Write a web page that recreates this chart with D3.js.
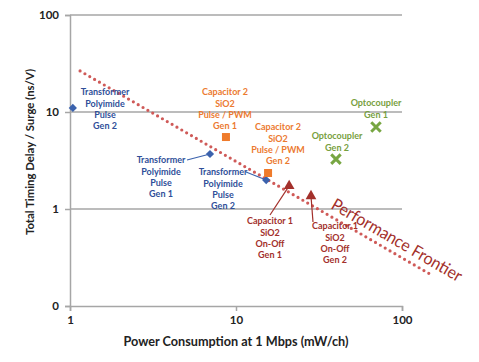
<!DOCTYPE html>
<html>
<head>
<meta charset="utf-8">
<script src="https://cdn.jsdelivr.net/npm/d3@7"></script>
<style>
  body { margin: 0; background: #fff; }
  text { font-family: Lato, "Open Sans", sans-serif; }
</style>
</head>
<body>
<div id="chart"></div>
<script>
// Data
const parts = ["Transformer Gen 2 (left)", "Transformer Gen 1", "Transformer Gen 2",
  "Capacitor 2 Gen 1", "Capacitor 2 Gen 2", "Capacitor 1 Gen 1", "Capacitor 1 Gen 2",
  "Optocoupler Gen 1", "Optocoupler Gen 2"];
const family = ["transformer", "transformer", "transformer", "cap2", "cap2", "cap1", "cap1", "opto", "opto"];
const power = [1.04, 6.97, 15.2, 8.7, 15.6, 20.9, 28.3, 69.7, 40];
const delay = [11.0, 3.69, 1.99, 5.52, 2.35, 1.73, 1.36, 7.0, 3.27];
const labelLines = [
  ["Transformer", "Polyimide", "Pulse", "Gen 2"],
  ["Transformer", "Polyimide", "Pulse", "Gen 1"],
  ["Transformer", "Polyimide", "Pulse", "Gen 2"],
  ["Capacitor 2", "SiO2", "Pulse / PWM", "Gen 1"],
  ["Capacitor 2", "SiO2", "Pulse / PWM", "Gen 2"],
  ["Capacitor 1", "SiO2", "On-Off", "Gen 1"],
  ["Capacitor 1", "SiO2", "On-Off", "Gen 2"],
  ["Optocoupler", "Gen 1"],
  ["Optocoupler", "Gen 2"]
];
const frontierX = [1.15, 147];
const frontierY = [26.5, 0.214];
const xTicks = [1, 10, 100];
const xTickLabels = ["1", "10", "100"];
const yTicks = [0.1, 1, 10, 100];
const yTickLabels = ["0", "1", "10", "100"];

// Layout of the annotations (pixel positions of label blocks, leader line starts)
const labelPos = [
  { x: 105, y: 92 },
  { x: 161, y: 160, lx: 187, ly: 160 },
  { x: 223, y: 172, lx: 246, ly: 172 },
  { x: 225, y: 92 },
  { x: 278, y: 127 },
  { x: 270, y: 221, lx: 270, ly: 215 },
  { x: 335, y: 226, lx: 313, ly: 222 },
  { x: 376, y: 103 },
  { x: 337, y: 136 }
];

const colors = {
  transformer: { mark: "#3b62ad", text: "#2f4f99" },
  cap2: { mark: "#ef7b2b", text: "#ec7a30" },
  cap1: { mark: "#a3302b", text: "#a3302b" },
  opto: { mark: "#77a642", text: "#77a040" }
};

const margin = { top: 15, right: 77, bottom: 56, left: 70 };
const width = 479 - margin.left - margin.right;
const height = 362 - margin.top - margin.bottom;

const svg = d3.select("#chart")
  .append("svg")
  .attr("width", 479)
  .attr("height", 362)
  .append("g")
  .attr("transform", `translate(${margin.left},${margin.top})`);

const x = d3.scaleLog().domain([1, 100]).range([0, width]);
const y = d3.scaleLog().domain([0.1, 100]).range([height, 0]);

// Gridlines
svg.selectAll(".grid")
  .data(yTicks.slice(1))
  .enter()
  .append("line")
  .attr("x1", 0)
  .attr("x2", width)
  .attr("y1", d => y(d))
  .attr("y2", d => y(d))
  .attr("stroke", "#a6a6a6")
  .attr("stroke-width", 1.5);

// Axes
const xAxis = svg.append("g")
  .attr("transform", `translate(0,${height})`)
  .call(d3.axisBottom(x).tickValues(xTicks).tickSize(5).tickPadding(5)
    .tickFormat((d, i) => xTickLabels[i]));
const yAxis = svg.append("g")
  .call(d3.axisLeft(y).tickValues(yTicks).tickSize(5).tickPadding(6)
    .tickFormat((d, i) => yTickLabels[i]));

[xAxis, yAxis].forEach(a => {
  a.select(".domain").attr("stroke", "#a6a6a6").attr("stroke-width", 1.5);
  a.selectAll(".tick line").attr("stroke", "#a6a6a6").attr("stroke-width", 1.5);
  a.selectAll(".tick text")
    .attr("font-family", "Lato, sans-serif")
    .attr("font-size", 11.5)
    .attr("font-weight", "bold")
    .attr("fill", "#222");
});

// Axis titles
svg.append("text")
  .attr("x", width / 2)
  .attr("y", height + 40)
  .attr("text-anchor", "middle")
  .attr("font-size", 13)
  .attr("font-weight", "bold")
  .attr("fill", "#222")
  .attr("textLength", 225)
  .attr("lengthAdjust", "spacingAndGlyphs")
  .text("Power Consumption at 1 Mbps (mW/ch)");

svg.append("text")
  .attr("transform", `translate(${-36},${152 - margin.top}) rotate(-90)`)
  .attr("text-anchor", "middle")
  .attr("font-size", 12)
  .attr("font-weight", "bold")
  .attr("fill", "#222")
  .attr("textLength", 166)
  .attr("lengthAdjust", "spacingAndGlyphs")
  .text("Total Timing Delay / Surge (ns/V)");

// Performance frontier (dotted)
const frontier = frontierX.map((d, i) => [d, frontierY[i]]);
svg.append("path")
  .datum(frontier)
  .attr("fill", "none")
  .attr("stroke", "#cf5a58")
  .attr("stroke-width", 3.2)
  .attr("stroke-linecap", "round")
  .attr("stroke-dasharray", "0 5.6")
  .attr("d", d3.line().x(d => x(d[0])).y(d => y(d[1])));

const fx0 = x(frontierX[0]), fy0 = y(frontierY[0]);
const fx1 = x(frontierX[1]), fy1 = y(frontierY[1]);
const angle = Math.atan2(fy1 - fy0, fx1 - fx0) * 180 / Math.PI;
svg.append("text")
  .attr("transform", `translate(${397 - margin.left},${240 - margin.top}) rotate(${angle})`)
  .attr("text-anchor", "middle")
  .attr("dy", "0.35em")
  .attr("font-size", 17)
  .attr("fill", "#a3302b")
  .attr("textLength", 148)
  .attr("lengthAdjust", "spacingAndGlyphs")
  .text("Performance Frontier");

// Leader lines
const points = parts.map((p, i) => ({
  name: p, fam: family[i], x: power[i], y: delay[i], lines: labelLines[i], pos: labelPos[i]
}));

svg.selectAll(".leader")
  .data(points.filter(d => d.pos.lx !== undefined))
  .enter()
  .append("line")
  .attr("x1", d => d.pos.lx - margin.left)
  .attr("y1", d => d.pos.ly - margin.top)
  .attr("x2", d => x(d.x))
  .attr("y2", d => y(d.y))
  .attr("stroke", d => colors[d.fam].mark)
  .attr("stroke-width", 1.2);

// Markers
const marker = svg.selectAll(".pt")
  .data(points)
  .enter()
  .append("g")
  .attr("transform", d => `translate(${x(d.x)},${y(d.y)})`);

marker.filter(d => d.fam === "transformer")
  .append("path")
  .attr("d", d3.symbol().type(d3.symbolSquare).size(34))
  .attr("transform", "rotate(45)")
  .attr("fill", d => colors[d.fam].mark);

marker.filter(d => d.fam === "cap2")
  .append("path")
  .attr("d", d3.symbol().type(d3.symbolSquare).size(64))
  .attr("fill", d => colors[d.fam].mark);

marker.filter(d => d.fam === "cap1")
  .append("path")
  .attr("d", d3.symbol().type(d3.symbolTriangle).size(50))
  .attr("fill", d => colors[d.fam].mark);

marker.filter(d => d.fam === "opto")
  .append("path")
  .attr("d", d3.symbol().type(d3.symbolX).size(60))
  .attr("fill", "none")
  .attr("stroke", d => colors[d.fam].mark)
  .attr("stroke-width", 3);

// Data labels
const labels = svg.selectAll(".lbl")
  .data(points)
  .enter()
  .append("text")
  .attr("text-anchor", "middle")
  .attr("font-size", 9)
  .attr("font-weight", "bold")
  .attr("fill", d => colors[d.fam].text);

labels.selectAll("tspan")
  .data(d => d.lines.map((t, i) => ({ t, i, pos: d.pos })))
  .enter()
  .append("tspan")
  .attr("x", d => d.pos.x - margin.left)
  .attr("y", d => d.pos.y - margin.top + d.i * 11.4)
  .attr("dy", "0.35em")
  .text(d => d.t);
</script>
</body>
</html>
